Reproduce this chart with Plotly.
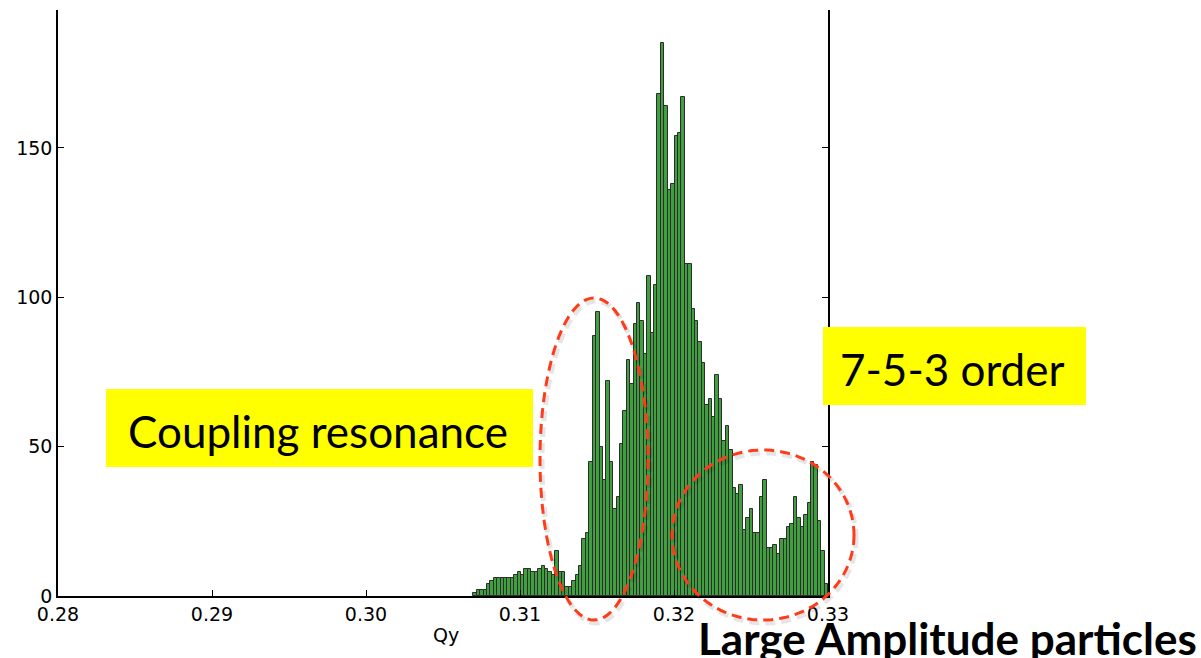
import numpy as np
import plotly.graph_objects as go

# Vertical tune histogram: bin range and counts per bin
qy_lo, qy_hi = 0.30697, 0.3300
counts = [
    1, 2, 2, 2, 4, 5, 6, 6, 6, 6,
    6, 6, 7, 8, 7, 9, 9, 8, 8, 9,
    10, 9, 8, 7, 15, 8, 8, 3, 3, 5,
    7, 10, 19, 21, 45, 87, 95, 50, 39, 72,
    45, 29, 33, 51, 62, 79, 71, 91, 98, 92,
    81, 107, 88, 104, 168, 185, 164, 136, 138, 154,
    155, 167, 111, 111, 96, 92, 85, 78, 64, 66,
    60, 74, 66, 52, 57, 49, 36, 34, 37, 22,
    26, 29, 21, 21, 33, 39, 16, 16, 17, 14,
    19, 19, 23, 24, 33, 26, 23, 27, 31, 45,
    44, 25, 15, 4,
]
x_ticks = [0.28, 0.29, 0.30, 0.31, 0.32, 0.33]
y_ticks = [0, 50, 100, 150]

edges = np.linspace(qy_lo, qy_hi, len(counts) + 1)
centers = 0.5 * (edges[:-1] + edges[1:])
bin_w = edges[1] - edges[0]

# Figure geometry (pixels)
W, H = 1201, 658
L, R, T, B = 58, 373, 10, 62


def px(x):
    return (x - L) / (W - L - R)


def py(y):
    return (H - B - y) / (H - T - B)


def ellipse_path(cx, cy, rx, ry, n=120):
    t = np.linspace(0, 2 * np.pi, n)
    xs = px(cx + rx * np.cos(t))
    ys = py(cy + ry * np.sin(t))
    pts = [f"{a:.5f},{b:.5f}" for a, b in zip(xs, ys)]
    return "M " + " L ".join(pts) + " Z"


fig = go.Figure()
fig.add_trace(go.Bar(
    x=centers, y=counts, width=bin_w,
    marker=dict(color="rgb(64,160,64)",
                line=dict(color="rgb(45,45,45)", width=1)),
    hoverinfo="skip",
))

shapes = []
# highlighted regions: dashed red ellipses with a soft shadow
for cx, cy, rx, ry in [(594, 459, 54, 161), (763, 535, 91, 85)]:
    shapes.append(dict(type="path", xref="paper", yref="paper",
                       path=ellipse_path(cx + 2, cy + 3, rx, ry),
                       line=dict(color="rgba(0,0,0,0.10)", width=5, dash="10px,6px"),
                       layer="above"))
    shapes.append(dict(type="path", xref="paper", yref="paper",
                       path=ellipse_path(cx, cy, rx, ry),
                       line=dict(color="#ff3b1a", width=3, dash="10px,6px"),
                       layer="above"))

# yellow label boxes
for x0, x1, y0, y1 in [(106, 533, 389, 467), (823, 1086, 327, 405)]:
    shapes.append(dict(type="rect", xref="paper", yref="paper",
                       x0=px(x0), x1=px(x1), y0=py(y1), y1=py(y0),
                       fillcolor="#ffff00", line=dict(width=0), layer="above"))

label_font = dict(family="Lato, Open Sans, sans-serif", size=44, color="black")
annotations = [
    dict(text="Coupling resonance", x=px(318), y=py(431), xref="paper", yref="paper",
         showarrow=False, xanchor="center", yanchor="middle", font=label_font),
    dict(text="7-5-3 order", x=px(952), y=py(369), xref="paper", yref="paper",
         showarrow=False, xanchor="center", yanchor="middle", font=label_font),
    dict(text="<b>Large Amplitude particles</b>", x=px(1199), y=py(638),
         xref="paper", yref="paper", showarrow=False, xanchor="right", yanchor="middle",
         font=dict(family="Lato, Open Sans, sans-serif", size=44, color="black")),
    dict(text="Qy", x=px(446), y=py(635), xref="paper", yref="paper",
         showarrow=False, xanchor="center", yanchor="middle",
         font=dict(family="DejaVu Sans", size=19, color="black")),
]

tick_font = dict(family="DejaVu Sans", size=19, color="black")
fig.update_layout(
    width=W, height=H, autosize=False,
    margin=dict(l=L, r=R, t=T, b=B, pad=0),
    paper_bgcolor="white", plot_bgcolor="white",
    bargap=0, showlegend=False,
    shapes=shapes, annotations=annotations,
    xaxis=dict(range=[0.28, 0.33], tickvals=x_ticks,
               ticktext=[f"{v:.2f}" for v in x_ticks],
               showline=True, linecolor="black", linewidth=1.5,
               ticks="inside", ticklen=6, tickcolor="black", tickwidth=1,
               showgrid=False, zeroline=False, mirror=False, tickfont=tick_font),
    yaxis=dict(range=[0, 196.2], tickvals=y_ticks,
               showline=True, linecolor="black", linewidth=1.5,
               ticks="inside", ticklen=6, tickcolor="black", tickwidth=1,
               showgrid=False, zeroline=False, mirror="ticks", tickfont=tick_font),
)

fig.write_html("out.html")
